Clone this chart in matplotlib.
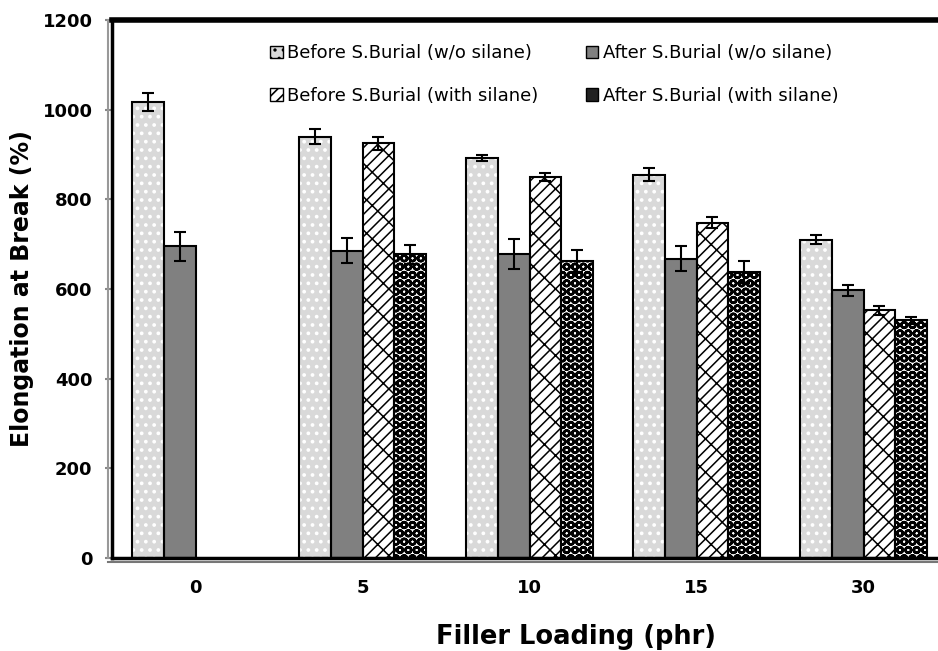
import matplotlib
matplotlib.use("Agg")
import matplotlib.pyplot as plt
import matplotlib.transforms as mtrans
from matplotlib.patches import Patch
from matplotlib.lines import Line2D
import numpy as np

plt.rcParams['font.family'] = ['DejaVu Sans']
plt.rcParams['hatch.linewidth'] = 1.2

categories = ["0", "5", "10", "15", "30"]
series_names = ["Before S.Burial (w/o silane)", "After S.Burial (w/o silane)",
                "Before S.Burial (with silane)", "After S.Burial (with silane)"]
before_wo = [1018, 940, 893, 855, 710]
before_wo_err = [20, 17, 7, 15, 10]
after_wo = [695, 685, 678, 668, 597]
after_wo_err = [33, 28, 33, 28, 12]
before_with = [0, 925, 850, 748, 553]
before_with_err = [0, 14, 8, 12, 10]
after_with = [0, 677, 663, 638, 530]
after_with_err = [0, 22, 25, 25, 8]

values = [before_wo, after_wo, before_with, after_with]
errors = [before_wo_err, after_wo_err, before_with_err, after_with_err]

fig = plt.figure(figsize=(9.38, 6.51), dpi=100)
ax = fig.add_axes([112/938, 1-558/651, 835/938, 538/651])

x = np.arange(len(categories))
w = 0.19
offsets = [-1.5*w, -0.5*w, 0.5*w, 1.5*w]
styles = [
    dict(face='#d9d9d9', hatch='..', hcol='white', hlw=1.5),
    dict(face='#808080', hatch=None, hcol='#808080', hlw=1.0),
    dict(face='white', hatch='///\\', hcol='black', hlw=1.1),
    dict(face='white', hatch='OO', hcol='black', hlw=1.8),
]
handles = []
for i in range(4):
    st = styles[i]
    vals = np.array(values[i], dtype=float)
    errs = np.array(errors[i], dtype=float)
    mask = vals > 0
    xs = x[mask] + offsets[i]
    with plt.rc_context({'hatch.linewidth': st['hlw']}):
        fills = ax.bar(xs, vals[mask], w, color=st['face'], edgecolor=st['hcol'],
                       hatch=st['hatch'], linewidth=0, zorder=2)
        for p in fills:
            try:
                p.set_hatch_linewidth(st['hlw'])
            except Exception:
                pass
    ax.bar(xs, vals[mask], w, facecolor='none', edgecolor='black',
           linewidth=1.5, zorder=3)
    ax.errorbar(xs, vals[mask], yerr=errs[mask], fmt='none', ecolor='black',
                elinewidth=1.5, capsize=4.5, capthick=1.5, zorder=4)
    handles.append(Patch(facecolor=st['face'] if i != 3 else '#222222',
                         edgecolor='black', hatch=st['hatch'] if i != 3 else None,
                         linewidth=1.0))

ax.set_xlim(-0.5, 4.5)
ax.set_ylim(0, 1200)
ax.set_yticks(np.arange(0, 1201, 200))
ax.set_xticks(x)
ax.set_xticklabels(categories, fontsize=13, fontweight='bold')
for t in ax.get_yticklabels():
    t.set_fontsize(13)
    t.set_fontweight('bold')
ax.tick_params(axis='y', direction='out', length=5, color='#888888', width=1.5, pad=9)
ax.tick_params(axis='x', length=0, pad=15)

ax.spines['right'].set_visible(False)
ax.spines['top'].set_linewidth(4)
ax.spines['left'].set_linewidth(2.5)
ax.spines['bottom'].set_linewidth(2.5)

# gray companion lines of the double frame
tl = mtrans.offset_copy(ax.transAxes, fig=fig, x=-4, y=0, units='dots')
ax.add_line(Line2D([0, 0], [0, 1], transform=tl, color='#999999', lw=1.5, clip_on=False))
tb = mtrans.offset_copy(ax.transAxes, fig=fig, x=0, y=-4, units='dots')
ax.add_line(Line2D([-0.005, 1], [0, 0], transform=tb, color='#777777', lw=1.5, clip_on=False))

ax.set_ylabel("Elongation at Break (%)", fontsize=17, fontweight='bold')
ax.yaxis.set_label_coords(-0.093, 0.5)
ax.set_xlabel("Filler Loading (phr)", fontsize=18.5, fontweight='bold')
ax.xaxis.set_label_coords(0.556, -0.122)

order = [0, 2, 1, 3]
leg = ax.legend([handles[k] for k in order], [series_names[k] for k in order],
                ncol=2, frameon=False, loc='upper left', bbox_to_anchor=(0.17, 0.985),
                fontsize=13, handlelength=0.7, handleheight=0.7, handletextpad=0.25,
                columnspacing=2.6, labelspacing=1.35)

fig.savefig("out.png", dpi=100)
